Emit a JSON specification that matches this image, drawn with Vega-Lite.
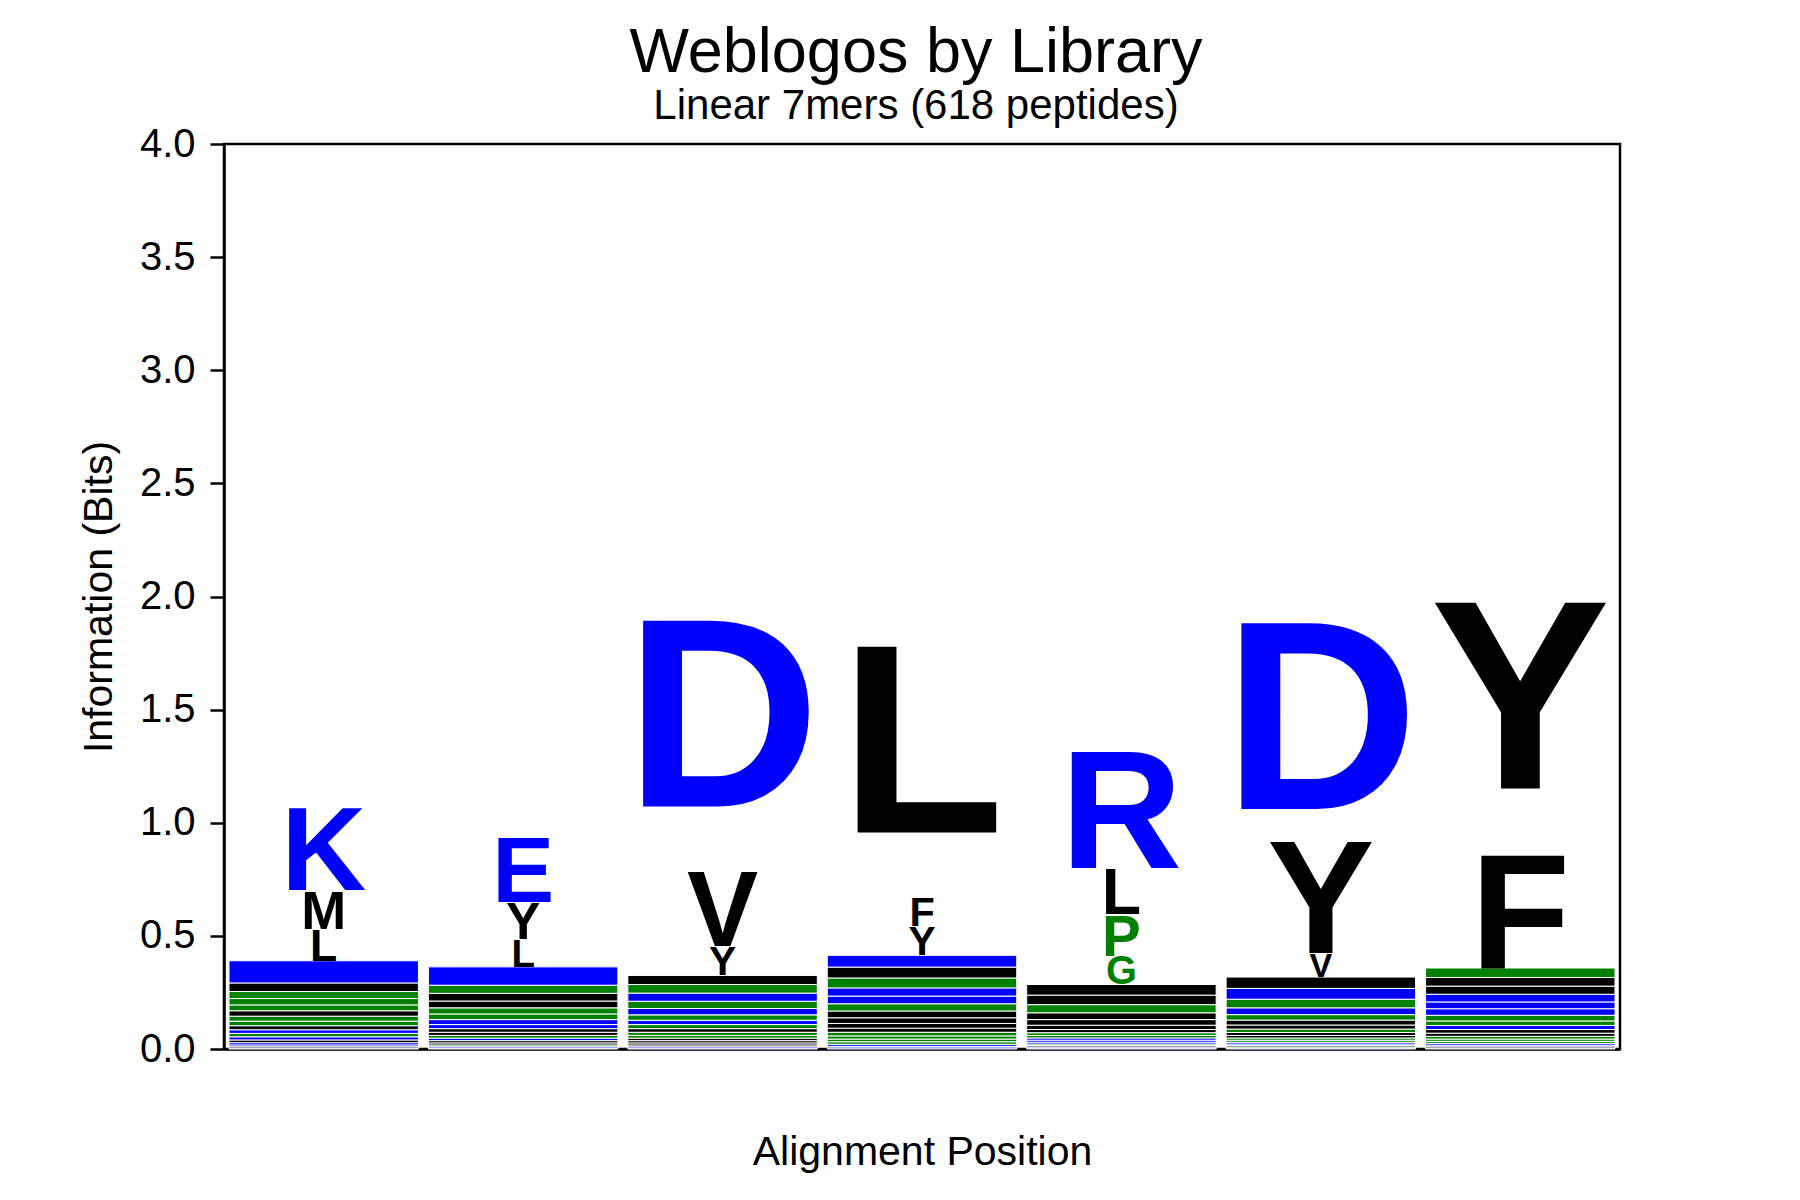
{
  "$schema": "https://vega.github.io/schema/vega-lite/v6.json",
  "autosize": {"type": "none"},
  "padding": {"left": 224, "top": 144, "right": 180, "bottom": 151},
  "width": 1396,
  "height": 905,
  "title": {
    "text": "Weblogos by Library",
    "subtitle": "Linear 7mers (618 peptides)",
    "font": "Liberation Sans",
    "subtitleFont": "Liberation Sans",
    "fontSize": 63,
    "subtitleFontSize": 42,
    "fontWeight": "normal",
    "color": "black",
    "subtitleColor": "black",
    "anchor": "middle",
    "frame": "group",
    "offset": -3,
    "dx": -6,
    "subtitlePadding": 1
  },
  "data": {
    "values": [
      {"pos": 1, "letter": "W", "height": 0.004}, {"pos": 1, "letter": "C", "height": 0.006}, {"pos": 1, "letter": "D", "height": 0.008}, {"pos": 1, "letter": "Q", "height": 0.010},
      {"pos": 1, "letter": "V", "height": 0.012}, {"pos": 1, "letter": "E", "height": 0.014}, {"pos": 1, "letter": "H", "height": 0.015}, {"pos": 1, "letter": "R", "height": 0.016},
      {"pos": 1, "letter": "I", "height": 0.018}, {"pos": 1, "letter": "S", "height": 0.020}, {"pos": 1, "letter": "P", "height": 0.022}, {"pos": 1, "letter": "F", "height": 0.024},
      {"pos": 1, "letter": "G", "height": 0.026}, {"pos": 1, "letter": "A", "height": 0.028}, {"pos": 1, "letter": "T", "height": 0.031}, {"pos": 1, "letter": "Y", "height": 0.038},
      {"pos": 1, "letter": "N", "height": 0.098}, {"pos": 1, "letter": "L", "height": 0.141}, {"pos": 1, "letter": "M", "height": 0.171}, {"pos": 1, "letter": "K", "height": 0.373},

      {"pos": 2, "letter": "S", "height": 0.004}, {"pos": 2, "letter": "Q", "height": 0.006}, {"pos": 2, "letter": "H", "height": 0.008}, {"pos": 2, "letter": "C", "height": 0.009},
      {"pos": 2, "letter": "I", "height": 0.010}, {"pos": 2, "letter": "K", "height": 0.011}, {"pos": 2, "letter": "P", "height": 0.012}, {"pos": 2, "letter": "W", "height": 0.014},
      {"pos": 2, "letter": "M", "height": 0.016}, {"pos": 2, "letter": "R", "height": 0.018}, {"pos": 2, "letter": "N", "height": 0.022}, {"pos": 2, "letter": "T", "height": 0.025},
      {"pos": 2, "letter": "A", "height": 0.027}, {"pos": 2, "letter": "V", "height": 0.030}, {"pos": 2, "letter": "F", "height": 0.034}, {"pos": 2, "letter": "G", "height": 0.036},
      {"pos": 2, "letter": "D", "height": 0.081}, {"pos": 2, "letter": "L", "height": 0.122}, {"pos": 2, "letter": "Y", "height": 0.163}, {"pos": 2, "letter": "E", "height": 0.294},

      {"pos": 3, "letter": "K", "height": 0.004}, {"pos": 3, "letter": "Q", "height": 0.006}, {"pos": 3, "letter": "W", "height": 0.008}, {"pos": 3, "letter": "I", "height": 0.009},
      {"pos": 3, "letter": "C", "height": 0.010}, {"pos": 3, "letter": "M", "height": 0.011}, {"pos": 3, "letter": "S", "height": 0.012}, {"pos": 3, "letter": "P", "height": 0.014},
      {"pos": 3, "letter": "F", "height": 0.016}, {"pos": 3, "letter": "H", "height": 0.018}, {"pos": 3, "letter": "R", "height": 0.019}, {"pos": 3, "letter": "G", "height": 0.024},
      {"pos": 3, "letter": "N", "height": 0.028}, {"pos": 3, "letter": "A", "height": 0.032}, {"pos": 3, "letter": "E", "height": 0.036}, {"pos": 3, "letter": "T", "height": 0.038},
      {"pos": 3, "letter": "L", "height": 0.040}, {"pos": 3, "letter": "Y", "height": 0.129}, {"pos": 3, "letter": "V", "height": 0.338}, {"pos": 3, "letter": "D", "height": 1.418},

      {"pos": 4, "letter": "N", "height": 0.005}, {"pos": 4, "letter": "R", "height": 0.007}, {"pos": 4, "letter": "Q", "height": 0.009}, {"pos": 4, "letter": "G", "height": 0.011},
      {"pos": 4, "letter": "S", "height": 0.012}, {"pos": 4, "letter": "H", "height": 0.014}, {"pos": 4, "letter": "P", "height": 0.016}, {"pos": 4, "letter": "C", "height": 0.018},
      {"pos": 4, "letter": "I", "height": 0.021}, {"pos": 4, "letter": "V", "height": 0.025}, {"pos": 4, "letter": "W", "height": 0.030}, {"pos": 4, "letter": "A", "height": 0.032},
      {"pos": 4, "letter": "D", "height": 0.034}, {"pos": 4, "letter": "E", "height": 0.036}, {"pos": 4, "letter": "T", "height": 0.044}, {"pos": 4, "letter": "M", "height": 0.048},
      {"pos": 4, "letter": "K", "height": 0.052}, {"pos": 4, "letter": "Y", "height": 0.129}, {"pos": 4, "letter": "F", "height": 0.131}, {"pos": 4, "letter": "L", "height": 1.424},

      {"pos": 5, "letter": "D", "height": 0.004}, {"pos": 5, "letter": "E", "height": 0.005}, {"pos": 5, "letter": "C", "height": 0.006}, {"pos": 5, "letter": "H", "height": 0.007},
      {"pos": 5, "letter": "K", "height": 0.008}, {"pos": 5, "letter": "N", "height": 0.009}, {"pos": 5, "letter": "Q", "height": 0.010}, {"pos": 5, "letter": "S", "height": 0.011},
      {"pos": 5, "letter": "T", "height": 0.012}, {"pos": 5, "letter": "I", "height": 0.014}, {"pos": 5, "letter": "Y", "height": 0.019}, {"pos": 5, "letter": "F", "height": 0.025},
      {"pos": 5, "letter": "W", "height": 0.030}, {"pos": 5, "letter": "A", "height": 0.036}, {"pos": 5, "letter": "V", "height": 0.042}, {"pos": 5, "letter": "M", "height": 0.047},
      {"pos": 5, "letter": "G", "height": 0.126}, {"pos": 5, "letter": "P", "height": 0.184}, {"pos": 5, "letter": "L", "height": 0.204}, {"pos": 5, "letter": "R", "height": 0.534},

      {"pos": 6, "letter": "Q", "height": 0.004}, {"pos": 6, "letter": "S", "height": 0.005}, {"pos": 6, "letter": "W", "height": 0.006}, {"pos": 6, "letter": "K", "height": 0.007},
      {"pos": 6, "letter": "R", "height": 0.008}, {"pos": 6, "letter": "P", "height": 0.009}, {"pos": 6, "letter": "T", "height": 0.010}, {"pos": 6, "letter": "M", "height": 0.011},
      {"pos": 6, "letter": "I", "height": 0.013}, {"pos": 6, "letter": "H", "height": 0.015}, {"pos": 6, "letter": "C", "height": 0.018}, {"pos": 6, "letter": "F", "height": 0.022},
      {"pos": 6, "letter": "G", "height": 0.024}, {"pos": 6, "letter": "N", "height": 0.030}, {"pos": 6, "letter": "A", "height": 0.038}, {"pos": 6, "letter": "E", "height": 0.048},
      {"pos": 6, "letter": "L", "height": 0.050}, {"pos": 6, "letter": "V", "height": 0.108}, {"pos": 6, "letter": "Y", "height": 0.509}, {"pos": 6, "letter": "D", "height": 1.108},

      {"pos": 7, "letter": "W", "height": 0.004}, {"pos": 7, "letter": "C", "height": 0.006}, {"pos": 7, "letter": "D", "height": 0.007}, {"pos": 7, "letter": "K", "height": 0.008},
      {"pos": 7, "letter": "G", "height": 0.009}, {"pos": 7, "letter": "T", "height": 0.010}, {"pos": 7, "letter": "P", "height": 0.012}, {"pos": 7, "letter": "M", "height": 0.014},
      {"pos": 7, "letter": "I", "height": 0.016}, {"pos": 7, "letter": "E", "height": 0.018}, {"pos": 7, "letter": "H", "height": 0.020}, {"pos": 7, "letter": "S", "height": 0.025},
      {"pos": 7, "letter": "R", "height": 0.029}, {"pos": 7, "letter": "Q", "height": 0.030}, {"pos": 7, "letter": "N", "height": 0.034}, {"pos": 7, "letter": "L", "height": 0.036},
      {"pos": 7, "letter": "V", "height": 0.038}, {"pos": 7, "letter": "A", "height": 0.042}, {"pos": 7, "letter": "F", "height": 0.516}, {"pos": 7, "letter": "Y", "height": 1.413}
    ]
  },
  "encoding": {
    "x": {
      "field": "pos",
      "type": "ordinal",
      "scale": {"paddingInner": 0.05, "paddingOuter": 0.025},
      "axis": {
        "title": "Alignment Position",
        "labels": false,
        "ticks": false,
        "domain": true,
        "domainColor": "black",
        "domainWidth": 2.5,
        "titleFont": "Liberation Sans",
        "titleFontSize": 41,
        "titleFontWeight": "normal",
        "titleColor": "black",
        "titlePadding": 83
      }
    },
    "color": {
      "field": "letter",
      "type": "nominal",
      "legend": null,
      "scale": {
        "domain": ["A", "C", "D", "E", "F", "G", "H", "I", "K", "L", "M", "N", "P", "Q", "R", "S", "T", "V", "W", "Y"],
        "range": ["#008000", "#000000", "#0000ff", "#0000ff", "#000000", "#008000", "#008000", "#000000", "#0000ff", "#000000", "#000000", "#0000ff", "#008000", "#0000ff", "#0000ff", "#008000", "#008000", "#000000", "#000000", "#000000"]
      }
    },
    "order": {"field": "height", "type": "quantitative"}
  },
  "layer": [
    {
      "mark": {"type": "bar", "stroke": "white", "strokeWidth": 1},
      "encoding": {
        "y": {
          "field": "height",
          "type": "quantitative",
          "stack": "zero",
          "scale": {"domain": [0, 4], "nice": false},
          "axis": {
            "title": "Information (Bits)",
            "values": [0, 0.5, 1, 1.5, 2, 2.5, 3, 3.5, 4],
            "format": ".1f",
            "grid": false,
            "labelFont": "Liberation Sans",
            "labelFontSize": 40,
            "labelColor": "black",
            "labelPadding": 15,
            "labelFlush": false,
            "labelOverlap": false,
            "tickColor": "black",
            "tickSize": 14,
            "tickWidth": 2.5,
            "domainColor": "black",
            "domainWidth": 2.5,
            "titleFont": "Liberation Sans",
            "titleFontSize": 41,
            "titleFontWeight": "normal",
            "titleColor": "black",
            "titlePadding": 19
          }
        },
        "opacity": {"condition": {"test": "datum.height >= 0.1", "value": 0}, "value": 1}
      }
    },
    {
      "mark": {"type": "text", "font": "Liberation Sans", "fontWeight": "bold", "align": "center", "baseline": "alphabetic"},
      "encoding": {
        "y": {"field": "height", "type": "quantitative", "stack": "zero", "bandPosition": 0.001},
        "text": {"condition": {"test": "datum.height < 0.1 || datum.height >= 0.855", "value": ""}, "field": "letter", "type": "nominal"},
        "size": {"field": "height", "type": "quantitative", "legend": null, "scale": {"domain": [0, 0.855], "range": [0, 270], "clamp": true}}
      }
    },
    {
      "mark": {"type": "text", "font": "Liberation Sans", "fontWeight": "bold", "align": "center", "baseline": "alphabetic", "dy": 97},
      "encoding": {
        "y": {"field": "height", "type": "quantitative", "stack": "zero", "bandPosition": 0.5},
        "text": {"condition": {"test": "datum.height < 0.855", "value": ""}, "field": "letter", "type": "nominal"},
        "size": {"field": "height", "type": "quantitative", "legend": null, "scale": {"domain": [0, 0.855], "range": [0, 270], "clamp": true}}
      }
    }
  ],
  "config": {
    "font": "Liberation Sans",
    "view": {"stroke": "black", "strokeWidth": 2.5}
  }
}
